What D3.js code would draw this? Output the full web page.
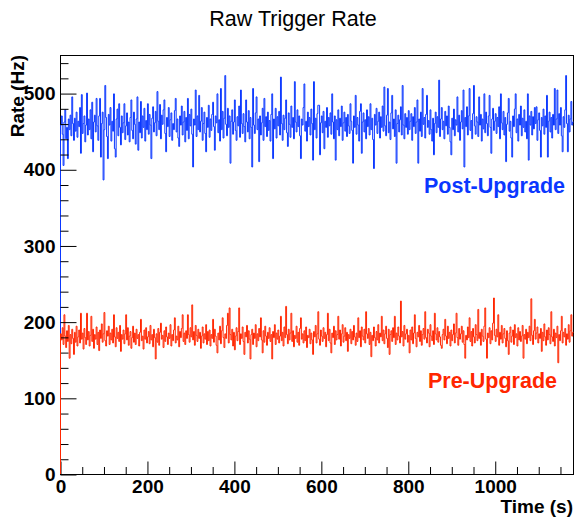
<!DOCTYPE html>
<html><head><meta charset="utf-8">
<script src="https://cdn.jsdelivr.net/npm/d3@7/dist/d3.min.js"></script>
<style>html,body{margin:0;padding:0;background:#fff;}svg{display:block;}</style>
</head><body>
<div id="chart"></div>
<script>
// ---- data ----
const title = "Raw Trigger Rate";
const xTitle = "Time (s)";
const yTitle = "Rate (Hz)";
const seriesNames = ["Post-Upgrade", "Pre-Upgrade"];
const binWidth = 2; // seconds per bin
const xMajorTicks = [0, 200, 400, 600, 800, 1000];
const xTickLabels = ["0", "200", "400", "600", "800", "1000"];
const yMajorTicks = [0, 100, 200, 300, 400, 500];
const yTickLabels = ["0", "100", "200", "300", "400", "500"];

const postUpgrade = [
458,470,446,405,462,478,440,455,414,466,
452,471,444,495,460,438,467,450,475,442,
463,456,481,421,498,447,460,470,436,458,
500,445,466,452,478,440,488,423,462,471,
449,493,457,438,470,493,416,460,475,386,
452,510,468,443,414,472,458,481,437,463,
450,499,427,416,466,479,444,486,455,432,
470,448,461,486,439,457,474,445,462,436,
468,491,451,440,475,459,433,466,495,425,
462,448,489,441,470,455,480,437,464,452,
486,446,472,458,414,467,482,449,461,476,
444,502,463,452,485,440,471,459,478,491,
447,423,468,456,481,443,465,474,438,460,
452,477,493,449,466,441,430,470,458,483,
445,462,476,436,468,451,493,440,472,457,
479,446,403,466,458,504,443,470,452,497,
449,463,481,438,460,475,447,423,468,455,
484,442,466,451,472,488,456,425,470,461,
499,448,465,437,506,452,476,441,467,523,
459,444,480,455,470,408,463,478,446,462,
491,451,438,469,457,483,442,504,460,447,
473,456,436,491,462,449,477,440,468,455,
403,506,458,447,474,495,452,466,410,470,
445,461,480,438,493,456,469,443,475,451,
464,437,472,499,414,466,453,480,441,469,
457,476,445,521,460,438,471,452,467,491,
448,430,474,459,442,483,455,468,440,515,
462,449,478,456,470,444,414,466,458,481,
512,450,463,437,475,456,468,445,479,460,
412,515,452,467,441,473,484,484,419,461,
470,448,476,427,463,455,481,442,468,457,
474,446,499,462,440,470,412,465,452,478,
444,467,456,483,438,461,475,450,468,443,
472,457,447,486,463,451,408,470,455,497,
446,468,458,437,476,486,421,462,474,449,
465,440,478,456,469,445,486,452,467,439,
401,472,458,480,447,463,475,441,469,455,
483,450,508,457,444,471,506,448,462,439,
474,497,453,466,443,478,408,460,471,449,
465,482,445,510,458,440,473,455,468,446,
477,452,463,473,438,469,456,481,447,462,
491,408,466,450,475,443,506,459,468,441,
472,497,455,464,446,478,452,437,467,419,
460,475,448,469,455,517,443,466,481,452,
463,440,476,457,470,446,483,455,436,419,
467,452,479,444,465,458,495,449,471,438,
462,477,453,504,403,468,456,482,445,470,
506,451,464,440,473,510,457,446,469,462,
443,495,458,472,437,466,453,499,448,475,
460,444,470,497,455,421,466,480,451,463,
473,447,468,456,482,440,499,461,452,476,
445,468,410,459,474,493,450,463,441,416,
470,456,479,499,448,466,437,472,458,483,
444,467,455,478,449,463,440,499,412,470,
458,476,445,469,453,481,460,482,438,465,
474,451,416,468,457,479,446,470,455,497,
416,463,475,449,468,441,472,458,506,452,
466,504,447,473,458,481,444,423,469,455,
478,523,460,423,471,449,466,489,458,462
];

const preUpgrade = [
184,176,192,170,209,181,166,188,174,195,
152,183,171,190,178,157,186,173,194,168,
180,189,172,211,177,185,164,191,179,170,
211,176,187,168,182,207,174,190,165,183,
177,193,170,186,162,189,178,197,173,184,
212,175,168,188,181,194,170,185,176,190,
172,209,180,167,192,178,186,174,195,161,
183,177,189,171,184,209,176,192,169,181,
187,165,179,194,173,185,170,190,178,183,
168,186,203,175,181,164,189,177,192,172,
180,187,171,195,176,183,167,190,179,151,
184,173,191,169,186,198,177,182,166,188,
174,193,180,170,185,178,196,168,183,175,
189,205,172,181,176,194,167,187,179,191,
209,174,185,170,188,178,209,183,173,192,
180,222,176,187,169,195,182,174,190,178,
186,165,181,193,172,184,177,196,170,187,
175,189,168,183,178,203,173,190,181,169,
159,185,176,194,171,188,205,179,166,184,
178,195,211,172,218,183,176,190,168,186,
163,181,192,175,187,218,170,184,178,193,
174,157,186,180,195,172,188,177,151,183,
190,170,185,178,196,167,184,175,191,180,
205,176,159,188,173,194,181,169,186,178,
192,174,183,151,187,179,196,170,185,177,
189,172,181,207,175,186,168,193,179,220,
183,171,190,176,185,211,174,188,167,182,
178,194,173,186,169,191,205,177,184,172,
188,175,193,166,182,179,190,171,185,176,
157,187,180,195,172,184,213,177,169,189,
181,174,192,178,186,167,183,211,175,190,
172,159,185,179,194,170,188,176,183,207,
177,189,168,184,196,173,181,192,175,186,
161,183,178,190,171,187,176,195,180,169,
185,174,205,179,188,167,193,181,176,190,
172,213,184,178,191,170,186,154,182,175,
193,179,168,187,176,196,172,185,180,207,
175,189,171,184,194,178,166,190,157,183,
188,174,192,179,207,170,185,176,193,181,
172,227,180,187,168,195,177,184,190,173,
182,159,189,176,193,171,185,209,178,167,
186,180,195,174,188,169,183,191,177,213,
179,172,190,185,167,196,181,175,188,170,
211,184,176,192,173,187,180,169,165,183,
190,176,203,181,171,194,178,186,168,189,
175,183,197,172,185,211,179,169,191,177,
184,194,173,188,170,152,182,176,193,179,
205,174,187,168,191,180,172,196,183,175,
216,178,186,169,190,181,174,194,218,177,
152,185,179,192,171,188,176,198,231,182,
174,190,180,209,169,186,177,195,172,184,
191,178,167,188,175,157,185,193,173,181,
189,170,196,179,184,168,192,176,187,174,
181,195,152,183,177,190,171,186,179,194,
175,230,182,170,188,203,177,185,193,172,
184,178,191,161,186,175,197,180,169,189,
176,192,183,171,213,180,174,190,168,185,
179,194,146,183,175,188,207,172,186,180,
191,169,184,177,196,173,188,209,181,186
];

// ---- drawing ----
const W = 576, H = 523;
const blue = "#0a37ff", red = "#ff2600";
const font = "'Liberation Sans', Arial, Helvetica, sans-serif";

const svg = d3.select("#chart").append("svg").attr("width", W).attr("height", H)
  .style("font-family", font);

const xMax = postUpgrade.length * binWidth;
const x = d3.scaleLinear().domain([0, xMax]).range([60, 573]);
const y = d3.scaleLinear().domain([0, 550]).range([474, 55]);

// frame
svg.append("rect").attr("x", 60).attr("y", 55).attr("width", 513).attr("height", 419)
  .attr("fill", "none").attr("stroke", "#000").attr("stroke-width", 1)
  .attr("transform", "translate(0.5,0.5)");

svg.append("defs").append("clipPath").attr("id", "clip")
  .append("rect").attr("x", 60).attr("y", 55).attr("width", 514).attr("height", 420);

function histPath(vals) {
  const pts = [[0, 0]].concat(vals.map((v, i) => [i * binWidth, v]))
    .concat([[vals.length * binWidth, vals[vals.length - 1]]]);
  return d3.line().x(d => x(d[0])).y(d => y(d[1])).curve(d3.curveStepAfter)(pts);
}

const g = svg.append("g").attr("clip-path", "url(#clip)");
g.append("path").attr("d", histPath(postUpgrade)).attr("fill", "none")
  .attr("stroke", blue).attr("stroke-width", 1).attr("transform", "translate(0.5,0)");
g.append("path").attr("d", histPath(preUpgrade)).attr("fill", "none")
  .attr("stroke", red).attr("stroke-width", 1).attr("transform", "translate(0.5,0)");

// x axis
const xMinor = d3.range(0, xMax + 1, 50).filter(v => !xMajorTicks.includes(v));
const xAx = svg.append("g").attr("transform", "translate(0.5,474.5)");
xAx.call(d3.axisBottom(x).tickValues(xMinor).tickSize(-7.5).tickFormat(""));
xAx.call(g2 => g2.select(".domain").remove());
const xAx2 = svg.append("g").attr("transform", "translate(0.5,474.5)");
xAx2.call(d3.axisBottom(x).tickValues(xMajorTicks).tickSize(-13).tickPadding(5)
  .tickFormat((d, i) => xTickLabels[i]));
xAx2.select(".domain").remove();
xAx2.selectAll("text").attr("font-size", 19).attr("font-weight", "bold")
  .attr("font-family", font).attr("fill", "#000");

// y axis
const yMinor = d3.range(0, 551, 20).filter(v => !yMajorTicks.includes(v));
const yAx = svg.append("g").attr("transform", "translate(60.5,0.5)");
yAx.call(d3.axisLeft(y).tickValues(yMinor).tickSize(-8).tickFormat(""));
yAx.select(".domain").remove();
const yAx2 = svg.append("g").attr("transform", "translate(60.5,0.5)");
yAx2.call(d3.axisLeft(y).tickValues(yMajorTicks).tickSize(-16).tickPadding(5)
  .tickFormat((d, i) => yTickLabels[i]));
yAx2.select(".domain").remove();
yAx2.selectAll("text").attr("font-size", 19).attr("font-weight", "bold")
  .attr("font-family", font).attr("fill", "#000");
svg.selectAll(".tick line").attr("stroke", "#000");

// red baseline segment on left edge
svg.append("line").attr("x1", 60.5).attr("x2", 60.5).attr("y1", y(0)).attr("y2", y(preUpgrade[0]))
  .attr("stroke", red).attr("stroke-width", 1);

// titles
svg.append("text").attr("x", 293).attr("y", 26).attr("text-anchor", "middle")
  .attr("font-size", 21.5).attr("fill", "#000").text(title);
svg.append("text").attr("x", 573).attr("y", 513).attr("text-anchor", "end")
  .attr("font-size", 19).attr("font-weight", "bold").attr("fill", "#000").text(xTitle);
svg.append("text").attr("transform", "translate(24,55) rotate(-90)").attr("text-anchor", "end")
  .attr("font-size", 19).attr("font-weight", "bold").attr("fill", "#000").text(yTitle);

// series labels
svg.append("text").attr("x", 565).attr("y", 193).attr("text-anchor", "end")
  .attr("font-size", 21.5).attr("font-weight", "bold").attr("fill", blue).text(seriesNames[0]);
svg.append("text").attr("x", 557).attr("y", 388).attr("text-anchor", "end")
  .attr("font-size", 21.5).attr("font-weight", "bold").attr("fill", red).text(seriesNames[1]);
</script>
</body></html>
